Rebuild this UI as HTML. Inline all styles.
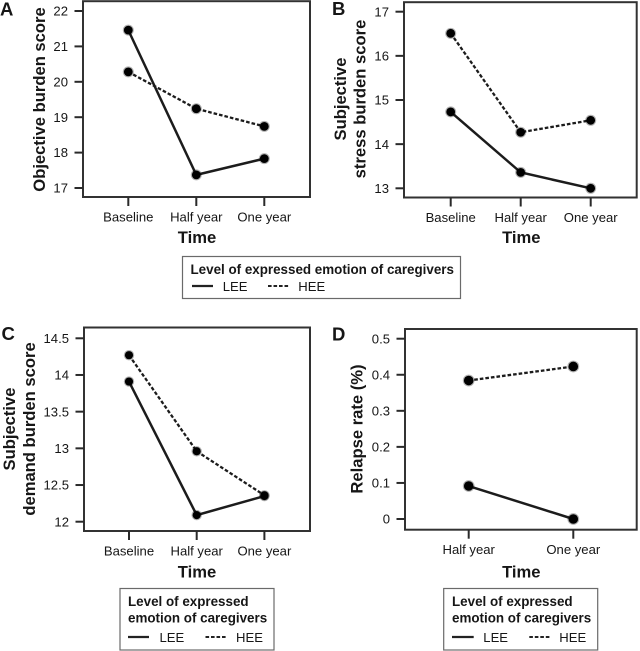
<!DOCTYPE html>
<html>
<head>
<meta charset="utf-8">
<title>Caregiver burden charts</title>
<style>
html,body{margin:0;padding:0;background:#fff;width:640px;height:651px;overflow:hidden}
svg{display:block}
text{font-family:"Liberation Sans",sans-serif;fill:#161616}
.tick{font-size:13.1px}
.axt{font-size:16.6px;font-weight:bold}
.leg{font-size:13.4px;font-weight:bold}
.lab{font-size:13.1px}
.pl{font-size:18.5px;font-weight:bold}
</style>
</head>
<body>
<svg id="fig" xmlns="http://www.w3.org/2000/svg" width="640" height="651" viewBox="0 0 640 651">
<defs><filter id="soft" x="-2%" y="-2%" width="104%" height="104%"><feGaussianBlur stdDeviation="0.35"/></filter></defs>
<g id="root" filter="url(#soft)">
  <text class="pl" x="0" y="15.5">A</text>
  <text class="pl" x="332" y="15">B</text>
  <text class="pl" x="1.5" y="340">C</text>
  <text class="pl" x="332" y="340.5">D</text>

  <text class="axt" transform="translate(45,99.5) rotate(-90)" text-anchor="middle">Objective burden score</text>
  <text class="axt" transform="translate(346,99) rotate(-90)" text-anchor="middle">Subjective</text>
  <text class="axt" transform="translate(365.5,99) rotate(-90)" text-anchor="middle">stress burden score</text>
  <text class="axt" transform="translate(15,429) rotate(-90)" text-anchor="middle">Subjective</text>
  <text class="axt" transform="translate(35,429) rotate(-90)" text-anchor="middle">demand burden score</text>
  <text class="axt" transform="translate(362.5,429) rotate(-90)" text-anchor="middle">Relapse rate (%)</text>

  <text class="axt" x="197" y="243" text-anchor="middle">Time</text>
  <text class="axt" x="521.3" y="243" text-anchor="middle">Time</text>
  <text class="axt" x="197" y="577.5" text-anchor="middle">Time</text>
  <text class="axt" x="521.3" y="577.5" text-anchor="middle">Time</text>

  <g>
    <rect x="182.5" y="256.5" width="278" height="42" fill="#fff" stroke="#6a6a6a" stroke-width="1.2"/>
    <text class="leg" x="190.5" y="274">Level of expressed emotion of caregivers</text>
    <line x1="192" x2="213" y1="286" y2="286" stroke="#222" stroke-width="2.2"/>
    <text class="lab" x="222.7" y="291">LEE</text>
    <line x1="268" x2="288.5" y1="286" y2="286" stroke="#222" stroke-width="2" stroke-dasharray="3.6 1.9"/>
    <text class="lab" x="298.3" y="291">HEE</text>
  </g>
  <g>
    <rect x="120" y="588.5" width="154" height="61.5" fill="#fff" stroke="#6a6a6a" stroke-width="1.2"/>
    <text class="leg" x="128" y="606">Level of expressed</text>
    <text class="leg" x="128" y="622.5">emotion of caregivers</text>
    <line x1="128" x2="149" y1="637" y2="637" stroke="#222" stroke-width="2.2"/>
    <text class="lab" x="159.5" y="642">LEE</text>
    <line x1="205.5" x2="227" y1="637" y2="637" stroke="#222" stroke-width="2" stroke-dasharray="3.6 1.9"/>
    <text class="lab" x="236" y="642">HEE</text>
  </g>
  <g>
    <rect x="443.7" y="588.5" width="154" height="61.5" fill="#fff" stroke="#6a6a6a" stroke-width="1.2"/>
    <text class="leg" x="452" y="606">Level of expressed</text>
    <text class="leg" x="452" y="622.5">emotion of caregivers</text>
    <line x1="452" x2="473.7" y1="637" y2="637" stroke="#222" stroke-width="2.2"/>
    <text class="lab" x="483.3" y="642">LEE</text>
    <line x1="529.3" x2="550.7" y1="637" y2="637" stroke="#222" stroke-width="2" stroke-dasharray="3.6 1.9"/>
    <text class="lab" x="559.3" y="642">HEE</text>
  </g>
</g>
</svg>
<script>
// Chart data
const catsThree = ['Baseline', 'Half year', 'One year'];
const catsTwo = ['Half year', 'One year'];

const ticksA = ['17', '18', '19', '20', '21', '22'];
const leeA = [21.46, 17.37, 17.83];
const heeA = [20.28, 19.24, 18.74];

const ticksB = ['13', '14', '15', '16', '17'];
const leeB = [14.73, 13.36, 13.0];
const heeB = [16.51, 14.27, 14.54];

const ticksC = ['12', '12.5', '13', '13.5', '14', '14.5'];
const leeC = [13.91, 12.09, 12.35];
const heeC = [14.27, 12.96, 12.36];

const ticksD = ['0', '0.1', '0.2', '0.3', '0.4', '0.5'];
const leeD = [0.0915, 0];
const heeD = [0.384, 0.423];

const NS = 'http://www.w3.org/2000/svg';
const root = document.getElementById('root');

function mk(tag, attrs, parent) {
  const el = document.createElementNS(NS, tag);
  for (const k in attrs) el.setAttribute(k, attrs[k]);
  parent.appendChild(el);
  return el;
}

function drawPanel(id, frame, cats, ticks, lee, hee) {
  const g = mk('g', {}, root);
  
  

  const tickNums = ticks.map(Number);
  const lo = tickNums[0];
  const hi = tickNums[tickNums.length - 1];
  const yScale = function (v) {
    return frame.yLo + (v - lo) / (hi - lo) * (frame.yHi - frame.yLo);
  };
  const xScale = function (i) {
    return frame.xFirst + i * frame.xStep;
  };

  const box = mk('rect', {
    x: frame.left, y: frame.top, width: frame.right - frame.left, height: frame.bottom - frame.top,
    fill: '#fff', stroke: '#333', 'stroke-width': 2
  }, g);
  
  

  ticks.forEach(function (t, i) {
    const y = yScale(tickNums[i]);
    const tk = mk('line', {
      x1: frame.left - 8.5, x2: frame.left, y1: y, y2: y, stroke: '#2a2a2a', 'stroke-width': 2
    }, g);
    
    
    const lb = mk('text', {
      x: frame.left - 15, y: y + 4.6, 'text-anchor': 'end', 'class': 'tick'
    }, g);
    
    
    lb.textContent = t;
  });

  cats.forEach(function (c, i) {
    const x = xScale(i);
    const tk = mk('line', {
      x1: x, x2: x, y1: frame.bottom, y2: frame.bottom + 9, stroke: '#2a2a2a', 'stroke-width': 2
    }, g);
    
    
    const lb = mk('text', {
      x: x, y: frame.bottom + 24.3, 'text-anchor': 'middle', 'class': 'tick'
    }, g);
    
    
    lb.textContent = c;
  });

  const drawSeries = function (name, values, dash, r) {
    const pts = values.map(function (v, i) { return xScale(i) + ',' + yScale(v); }).join(' ');
    const line = mk('polyline', {
      points: pts, fill: 'none', stroke: '#1e1e1e', 'stroke-width': dash ? 2.3 : 2.5
    }, g);
    if (dash) line.setAttribute('stroke-dasharray', '3.6 2');
    
    
    values.forEach(function (v, i) {
      const halo = mk('circle', { cx: xScale(i), cy: yScale(v), r: r + 1.1, fill: '#000', opacity: 0.3 }, g);
      
      
      const dot = mk('circle', { cx: xScale(i), cy: yScale(v), r: r, fill: '#050505' }, g);
      
      
    });
  };
  drawSeries('hee', hee, true, frame.r);
  drawSeries('lee', lee, false, frame.r);
}

drawPanel('a', { left: 83, right: 310, top: 1.2, bottom: 197, yLo: 188, yHi: 11, xFirst: 128.3, xStep: 68, r: 4.4 }, catsThree, ticksA, leeA, heeA);
drawPanel('b', { left: 404, right: 636.7, top: 2.2, bottom: 197.5, yLo: 188.3, yHi: 11.7, xFirst: 450.7, xStep: 70, r: 4.4 }, catsThree, ticksB, leeB, heeB);
drawPanel('c', { left: 84, right: 310, top: 327.5, bottom: 531, yLo: 521.7, yHi: 338.3, xFirst: 129, xStep: 67.7, r: 4.1 }, catsThree, ticksC, leeC, heeC);
drawPanel('d', { left: 405, right: 636.7, top: 329, bottom: 529.7, yLo: 519, yHi: 338.7, xFirst: 468.7, xStep: 104.6, r: 4.8 }, catsTwo, ticksD, leeD, heeD);
</script>
</body>
</html>
